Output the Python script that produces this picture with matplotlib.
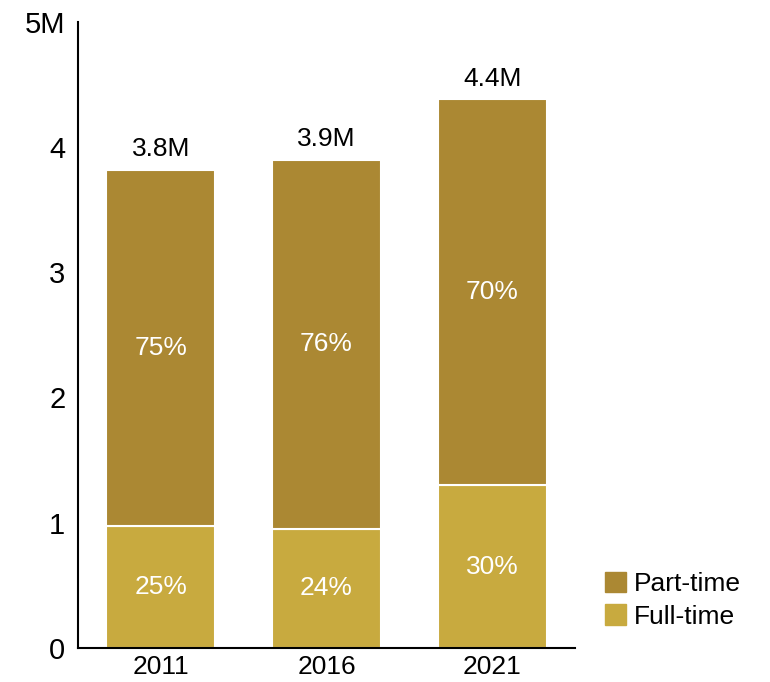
import matplotlib.pyplot as plt
from matplotlib.patches import Patch

plt.rcParams['font.family'] = ['Liberation Sans', 'DejaVu Sans']

years = ['2011', '2016', '2021']
full_time = [0.97, 0.95, 1.30]   # millions
part_time = [2.85, 2.95, 3.08]   # millions

PT_COLOR = '#AB8833'
FT_COLOR = '#C8AA3F'
FS = 19

fig = plt.figure(figsize=(7.7, 6.82), dpi=100)
ax = fig.add_axes([0.101, 0.050, 0.646, 0.918])

x = range(len(years))
ax.bar(x, full_time, width=0.66, color=FT_COLOR, edgecolor='white', linewidth=1.5)
ax.bar(x, part_time, width=0.66, bottom=full_time, color=PT_COLOR,
       edgecolor='white', linewidth=1.5)

for i, (ft, pt) in enumerate(zip(full_time, part_time)):
    total = ft + pt
    ax.text(i, ft / 2, f'{ft / total * 100:.0f}%', ha='center', va='center',
            color='white', fontsize=FS)
    ax.text(i, ft + pt / 2, f'{pt / total * 100:.0f}%', ha='center', va='center',
            color='white', fontsize=FS)
    ax.text(i, total + 0.07, f'{total:.1f}M', ha='center', va='bottom',
            color='black', fontsize=FS)

ax.set_xlim(-0.5, 2.5)
ax.set_ylim(0, 5)
ax.set_xticks(list(x))
ax.set_xticklabels(years)
ax.set_yticks([0, 1, 2, 3, 4, 5])
ax.set_yticklabels(['0', '1', '2', '3', '4', '5M'])
ax.tick_params(length=0)
ax.tick_params(axis='y', pad=9, labelsize=21)
ax.tick_params(axis='x', pad=5, labelsize=FS)
for side in ['top', 'right']:
    ax.spines[side].set_visible(False)
for side in ['left', 'bottom']:
    ax.spines[side].set_linewidth(1.5)

handles = [Patch(color=PT_COLOR, label='Part-time'),
           Patch(color=FT_COLOR, label='Full-time')]
fig.legend(handles=handles, loc='upper left', bbox_to_anchor=(0.786, 0.162),
           frameon=False, fontsize=FS, handlelength=0.8, handleheight=0.8,
           handletextpad=0.3, labelspacing=0.33, borderpad=0, borderaxespad=0)

fig.savefig('out.png', dpi=100)
